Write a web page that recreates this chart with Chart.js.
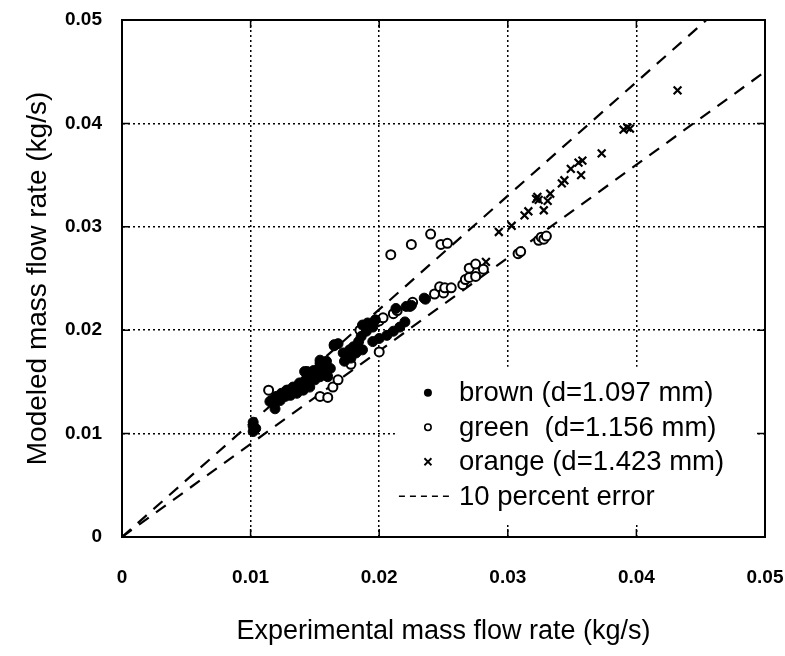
<!DOCTYPE html>
<html>
<head>
<meta charset="utf-8">
<script src="https://cdn.jsdelivr.net/npm/chart.js@4"></script>
<style>
  html, body { margin: 0; padding: 0; background: #fff; }
  #wrap { width: 785px; height: 656px; }
</style>
</head>
<body>
<div id="wrap"><canvas id="flowChart" width="785" height="656"></canvas></div>
<script>
// measured vs modeled mass flow rate (kg/s)
const brownX = [0.0102, 0.0102, 0.0102, 0.0104, 0.0115, 0.0118, 0.0116, 0.0119, 0.0120, 0.0123, 0.0124, 0.0127,
  0.0128, 0.0129, 0.0131, 0.0133, 0.0133, 0.0136, 0.0137, 0.0138, 0.0140, 0.0141, 0.0142, 0.0142, 0.0144, 0.0144,
  0.0146, 0.0147, 0.0149, 0.0150, 0.0151, 0.0154, 0.0154, 0.0154, 0.0154, 0.0156, 0.0156, 0.0158, 0.0158, 0.0159,
  0.0160, 0.0162, 0.0165, 0.0168, 0.0172, 0.0173, 0.0177, 0.0178, 0.0180, 0.0182, 0.0184, 0.0186, 0.0187, 0.0187,
  0.0190, 0.0191, 0.0195, 0.0195, 0.0197, 0.0200, 0.0206, 0.0211, 0.0213, 0.0216, 0.0220, 0.0221, 0.0224, 0.0225,
  0.0235, 0.0236];
const brownY = [0.0111, 0.0107, 0.0102, 0.0105, 0.0131, 0.0129, 0.0132, 0.0124, 0.0136, 0.0132, 0.0139, 0.0136,
  0.0142, 0.0142, 0.0137, 0.0141, 0.0145, 0.0139, 0.0144, 0.0149, 0.0147, 0.0142, 0.0150, 0.0160, 0.0160, 0.0155,
  0.0145, 0.0153, 0.0161, 0.0152, 0.0158, 0.0163, 0.0155, 0.0168, 0.0171, 0.0166, 0.0161, 0.0160, 0.0168, 0.0170,
  0.0155, 0.0163, 0.0186, 0.0187, 0.0178, 0.0170, 0.0181, 0.0173, 0.0184, 0.0178, 0.0189, 0.0194, 0.0181, 0.0205,
  0.0199, 0.0207, 0.0203, 0.0189, 0.0210, 0.0192, 0.0195, 0.0199, 0.0221, 0.0203, 0.0208, 0.0223, 0.0223, 0.0224,
  0.0231, 0.0230];

const greenX = [0.0114, 0.0154, 0.0160, 0.0164, 0.0168, 0.0165, 0.0178, 0.0185, 0.0194, 0.0200, 0.0200, 0.0203,
  0.0209, 0.0211, 0.0214, 0.0225, 0.0226, 0.0240, 0.0243, 0.0247, 0.0248, 0.0250, 0.0251, 0.0253, 0.0256, 0.0265,
  0.0267, 0.0270, 0.0270, 0.0275, 0.0275, 0.0281, 0.0308, 0.0310, 0.0324, 0.0326, 0.0328, 0.0330];
const greenY = [0.0142, 0.0136, 0.0135, 0.0145, 0.0152, 0.0185, 0.0167, 0.0200, 0.0206, 0.0179, 0.0209, 0.0212,
  0.0273, 0.0216, 0.0219, 0.0283, 0.0227, 0.0293, 0.0235, 0.0242, 0.0283, 0.0236, 0.0241, 0.0284, 0.0241, 0.0244,
  0.0249, 0.0251, 0.0260, 0.0252, 0.0264, 0.0259, 0.0274, 0.0276, 0.0287, 0.0290, 0.0288, 0.0291];

const orangeX = [0.0283, 0.0293, 0.0303, 0.0313, 0.0316, 0.0322, 0.0323, 0.0324, 0.0328, 0.0331, 0.0333, 0.0342,
  0.0344, 0.0349, 0.0355, 0.0357, 0.0358, 0.0373, 0.0390, 0.0393, 0.0395, 0.0432];
const orangeY = [0.0266, 0.0295, 0.0301, 0.0311, 0.0315, 0.0327, 0.0329, 0.0326, 0.0316, 0.0325, 0.0332, 0.0342,
  0.0345, 0.0356, 0.0362, 0.0350, 0.0364, 0.0371, 0.0394, 0.0396, 0.0395, 0.0432];

// +/- 10 percent lines
const upperX = [0, 0.04545];
const upperY = [0, 0.05];
const lowerX = [0, 0.05];
const lowerY = [0, 0.045];

const tickValues = [0, 0.01, 0.02, 0.03, 0.04, 0.05];
const tickLabels = ["0", "0.01", "0.02", "0.03", "0.04", "0.05"];

const legendItems = [
  { text: "brown (d=1.097 mm)", kind: "brown" },
  { text: "green  (d=1.156 mm)", kind: "green" },
  { text: "orange (d=1.423 mm)", kind: "orange" },
  { text: "10 percent error", kind: "dash" },
];

function toPoints(xs, ys) {
  return xs.map((x, i) => ({ x: x, y: ys[i] }));
}

const FONT = "'Liberation Sans', Arial, Helvetica, sans-serif";

// box around plot area, inner tick marks, legend inside the plot
const framePlugin = {
  id: "frame",
  afterDraw(chart) {
    const ctx = chart.ctx;
    const a = chart.chartArea;
    const xs = chart.scales.x, ys = chart.scales.y;
    ctx.save();

    // legend position
    const lx = a.left + (a.right - a.left) * 0.524;
    const ly = a.top + (a.bottom - a.top) * 0.721;
    const rowH = 34.5;

    // legend background hides the grid behind it
    ctx.fillStyle = "#fff";
    ctx.fillRect(lx - 64, ly - 26, 360, 3 * rowH + 52);

    ctx.setLineDash([]);
    ctx.strokeStyle = "#000";
    ctx.lineWidth = 2;
    ctx.strokeRect(a.left, a.top, a.right - a.left, a.bottom - a.top);

    ctx.lineWidth = 1.5;
    ctx.beginPath();
    tickValues.slice(1, -1).forEach((v) => {
      const px = xs.getPixelForValue(v);
      const py = ys.getPixelForValue(v);
      ctx.moveTo(px, a.bottom); ctx.lineTo(px, a.bottom - 8);
      ctx.moveTo(px, a.top); ctx.lineTo(px, a.top + 8);
      ctx.moveTo(a.left, py); ctx.lineTo(a.left + 8, py);
      ctx.moveTo(a.right, py); ctx.lineTo(a.right - 8, py);
    });
    ctx.stroke();

    ctx.font = "27.5px " + FONT;
    ctx.fillStyle = "#000";
    ctx.textBaseline = "middle";
    legendItems.forEach((item, i) => {
      const y = ly + i * rowH;
      const mx = lx - 31;
      if (item.kind === "brown") {
        ctx.beginPath(); ctx.arc(mx, y, 4, 0, Math.PI * 2); ctx.fill();
      } else if (item.kind === "green") {
        ctx.lineWidth = 1.6;
        ctx.beginPath(); ctx.arc(mx, y, 3.2, 0, Math.PI * 2); ctx.stroke();
      } else if (item.kind === "orange") {
        ctx.lineWidth = 1.8;
        ctx.beginPath();
        ctx.moveTo(mx - 3.5, y - 3.5); ctx.lineTo(mx + 3.5, y + 3.5);
        ctx.moveTo(mx + 3.5, y - 3.5); ctx.lineTo(mx - 3.5, y + 3.5);
        ctx.stroke();
      } else {
        ctx.lineWidth = 1.5;
        ctx.setLineDash([6, 5]);
        ctx.beginPath(); ctx.moveTo(lx - 60, y); ctx.lineTo(lx - 6, y); ctx.stroke();
        ctx.setLineDash([]);
      }
      ctx.fillText(item.text, lx, y + 1);
    });
    ctx.restore();
  },
};

const gridColor = (c) => (c.index === 0 || c.index === 5 ? "rgba(0,0,0,0)" : "#000");

new Chart(document.getElementById("flowChart").getContext("2d"), {
  type: "scatter",
  data: {
    datasets: [
      {
        label: "brown (d=1.097 mm)",
        data: toPoints(brownX, brownY),
        pointStyle: "circle",
        pointRadius: 5,
        backgroundColor: "#000",
        borderColor: "#000",
        borderWidth: 1,
      },
      {
        label: "green (d=1.156 mm)",
        data: toPoints(greenX, greenY),
        pointStyle: "circle",
        pointRadius: 4.5,
        backgroundColor: "#fff",
        borderColor: "#000",
        borderWidth: 2,
      },
      {
        label: "orange (d=1.423 mm)",
        data: toPoints(orangeX, orangeY),
        pointStyle: "crossRot",
        pointRadius: 5.5,
        borderColor: "#000",
        borderWidth: 2.2,
      },
      {
        type: "line",
        label: "+10%",
        data: toPoints(upperX, upperY),
        borderColor: "#000",
        borderWidth: 2.2,
        borderDash: [12, 9],
        pointRadius: 0,
        fill: false,
      },
      {
        type: "line",
        label: "-10%",
        data: toPoints(lowerX, lowerY),
        borderColor: "#000",
        borderWidth: 2.2,
        borderDash: [12, 9],
        pointRadius: 0,
        fill: false,
      },
    ],
  },
  options: {
    responsive: false,
    animation: false,
    layout: { padding: { top: 20, right: 20, left: 0, bottom: 0 } },
    plugins: {
      legend: { display: false },
      tooltip: { enabled: false },
    },
    scales: {
      x: {
        type: "linear",
        min: 0,
        max: 0.05,
        afterFit: (s) => { s.height = 119; s.paddingLeft = 0; s.paddingRight = 0; },
        ticks: {
          stepSize: 0.01,
          padding: 29,
          color: "#000",
          font: { family: FONT, size: 19, weight: "bold" },
          callback: (v, i) => tickLabels[i],
        },
        grid: { color: gridColor, lineWidth: 1.5, drawTicks: false },
        border: { display: true, color: "#000", width: 2, dash: [2, 3] },
        title: {
          display: true,
          text: "Experimental mass flow rate (kg/s)",
          color: "#000",
          font: { family: FONT, size: 27 },
          padding: { top: 0, bottom: 8 },
        },
      },
      y: {
        type: "linear",
        min: 0,
        max: 0.05,
        afterFit: (s) => { s.width = 122; s.paddingTop = 0; s.paddingBottom = 0; },
        ticks: {
          stepSize: 0.01,
          padding: 20,
          color: "#000",
          font: { family: FONT, size: 19, weight: "bold" },
          callback: (v, i) => tickLabels[i],
        },
        grid: { color: gridColor, lineWidth: 1.5, drawTicks: false },
        border: { display: true, color: "#000", width: 2, dash: [2, 3] },
        title: {
          display: true,
          text: "Modeled mass flow rate (kg/s)",
          color: "#000",
          font: { family: FONT, size: 28 },
          padding: { top: 21, bottom: 0 },
        },
      },
    },
  },
  plugins: [framePlugin],
});
</script>
</body>
</html>
